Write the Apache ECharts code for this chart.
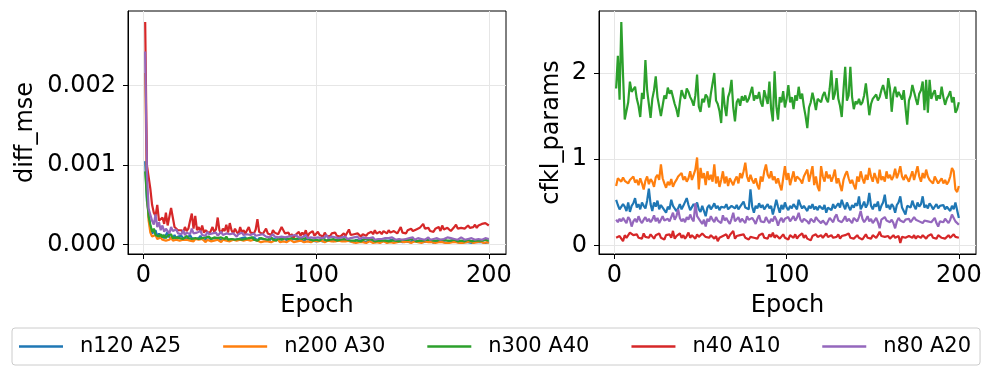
<!DOCTYPE html>
<html><head><meta charset="utf-8">
<script src="https://cdn.jsdelivr.net/npm/echarts@6/dist/echarts.min.js"></script>
<style>html,body{margin:0;padding:0;background:#fff}#c{width:997px;height:378px}</style>
</head><body><div id="c"></div>
<script>
// ---------- data ----------
const seriesNames = ['n120 A25', 'n200 A30', 'n300 A40', 'n40 A10', 'n80 A20'];
const epochs = [];
for (let e = 1; e <= 200; e++) epochs.push(e);
const xTickValues = [0, 100, 200];
const diffMseTickValues = [0, 0.001, 0.002];
const cfklTickValues = [0, 1, 2];

// diff_mse (left panel)
const diffMse_n120 = [105e-5,55e-5,40e-5,22e-5,14e-5,12e-5,18e-5,10e-5,14e-5,9e-5,
12e-5,8e-5,10e-5,16e-5,9e-5,11e-5,8e-5,12e-5,7e-5,10e-5,
9e-5,11e-5,8e-5,10e-5,7e-5,9e-5,12e-5,8e-5,10e-5,7e-5,
9e-5,8e-5,11e-5,7e-5,9e-5,6e-5,10e-5,8e-5,7e-5,9e-5,
8e-5,10e-5,7e-5,9e-5,6e-5,8e-5,7e-5,9e-5,6e-5,8e-5,
7e-5,9e-5,6e-5,8e-5,7e-5,5e-5,8e-5,7e-5,9e-5,6e-5,
7e-5,8e-5,6e-5,9e-5,7e-5,5e-5,8e-5,6e-5,7e-5,8e-5,
6e-5,7e-5,5e-5,8e-5,6e-5,7e-5,9e-5,6e-5,5e-5,7e-5,
6e-5,8e-5,5e-5,7e-5,6e-5,4e-5,7e-5,5e-5,6e-5,8e-5,
5e-5,6e-5,4e-5,7e-5,5e-5,6e-5,8e-5,5e-5,6e-5,4e-5,
6e-5,5e-5,7e-5,4e-5,6e-5,5e-5,3e-5,6e-5,5e-5,4e-5,
5e-5,6e-5,4e-5,5e-5,3e-5,6e-5,4e-5,5e-5,6e-5,4e-5,
5e-5,3e-5,6e-5,4e-5,5e-5,4e-5,6e-5,3e-5,5e-5,4e-5,
4e-5,6e-5,5e-5,3e-5,5e-5,4e-5,6e-5,4e-5,3e-5,5e-5,
4e-5,5e-5,3e-5,6e-5,4e-5,5e-5,3e-5,4e-5,5e-5,3e-5,
5e-5,4e-5,6e-5,3e-5,4e-5,5e-5,3e-5,4e-5,2e-5,5e-5,
4e-5,3e-5,5e-5,4e-5,3e-5,5e-5,4e-5,2e-5,4e-5,5e-5,
3e-5,4e-5,5e-5,3e-5,4e-5,2e-5,4e-5,5e-5,3e-5,4e-5,
5e-5,3e-5,4e-5,2e-5,4e-5,3e-5,5e-5,3e-5,4e-5,2e-5,
4e-5,3e-5,5e-5,3e-5,4e-5,3e-5,4e-5,2e-5,4e-5,3e-5];
const diffMse_n200 = [216e-5,70e-5,30e-5,15e-5,10e-5,8e-5,12e-5,7e-5,6e-5,9e-5,
6e-5,8e-5,5e-5,7e-5,6e-5,9e-5,5e-5,7e-5,6e-5,8e-5,
5e-5,7e-5,6e-5,4e-5,6e-5,8e-5,5e-5,6e-5,4e-5,7e-5,
5e-5,6e-5,4e-5,7e-5,5e-5,3e-5,6e-5,5e-5,4e-5,6e-5,
5e-5,4e-5,6e-5,5e-5,3e-5,6e-5,4e-5,5e-5,7e-5,4e-5,
5e-5,6e-5,4e-5,5e-5,3e-5,6e-5,4e-5,5e-5,4e-5,6e-5,
4e-5,5e-5,3e-5,6e-5,4e-5,5e-5,4e-5,3e-5,5e-5,4e-5,
6e-5,4e-5,5e-5,3e-5,4e-5,5e-5,4e-5,6e-5,3e-5,5e-5,
4e-5,5e-5,3e-5,4e-5,6e-5,4e-5,3e-5,5e-5,4e-5,3e-5,
5e-5,4e-5,3e-5,5e-5,4e-5,6e-5,3e-5,4e-5,5e-5,3e-5,
4e-5,3e-5,5e-5,4e-5,3e-5,4e-5,5e-5,3e-5,4e-5,2e-5,
4e-5,3e-5,5e-5,3e-5,4e-5,2e-5,4e-5,3e-5,5e-5,3e-5,
3e-5,4e-5,2e-5,4e-5,3e-5,5e-5,3e-5,4e-5,2e-5,3e-5,
4e-5,3e-5,2e-5,4e-5,3e-5,4e-5,2e-5,3e-5,4e-5,3e-5,
2e-5,4e-5,3e-5,3e-5,2e-5,4e-5,3e-5,2e-5,4e-5,3e-5,
3e-5,2e-5,4e-5,3e-5,2e-5,3e-5,4e-5,2e-5,3e-5,3e-5,
2e-5,3e-5,4e-5,2e-5,3e-5,2e-5,3e-5,4e-5,2e-5,3e-5,
3e-5,2e-5,3e-5,4e-5,2e-5,3e-5,2e-5,3e-5,3e-5,2e-5,
3e-5,4e-5,2e-5,3e-5,2e-5,3e-5,3e-5,2e-5,4e-5,3e-5,
2e-5,3e-5,3e-5,2e-5,4e-5,3e-5,2e-5,3e-5,3e-5,2e-5];
const diffMse_n300 = [92e-5,60e-5,35e-5,25e-5,16e-5,20e-5,12e-5,14e-5,10e-5,13e-5,
9e-5,12e-5,8e-5,11e-5,9e-5,13e-5,8e-5,10e-5,9e-5,11e-5,
8e-5,10e-5,7e-5,9e-5,11e-5,8e-5,10e-5,7e-5,9e-5,8e-5,
10e-5,7e-5,9e-5,8e-5,6e-5,9e-5,8e-5,10e-5,7e-5,8e-5,
9e-5,7e-5,8e-5,6e-5,9e-5,8e-5,7e-5,10e-5,6e-5,8e-5,
7e-5,9e-5,6e-5,8e-5,7e-5,9e-5,6e-5,8e-5,7e-5,5e-5,
8e-5,7e-5,9e-5,6e-5,8e-5,5e-5,7e-5,8e-5,6e-5,7e-5,
8e-5,6e-5,7e-5,9e-5,6e-5,7e-5,5e-5,8e-5,7e-5,6e-5,
7e-5,8e-5,6e-5,7e-5,5e-5,8e-5,6e-5,7e-5,6e-5,8e-5,
6e-5,7e-5,5e-5,8e-5,6e-5,7e-5,6e-5,5e-5,7e-5,6e-5,
7e-5,5e-5,6e-5,8e-5,6e-5,5e-5,7e-5,6e-5,5e-5,7e-5,
6e-5,5e-5,7e-5,6e-5,4e-5,7e-5,5e-5,6e-5,7e-5,5e-5,
6e-5,5e-5,7e-5,5e-5,6e-5,4e-5,6e-5,7e-5,5e-5,6e-5,
5e-5,7e-5,6e-5,4e-5,6e-5,5e-5,7e-5,5e-5,6e-5,5e-5,
6e-5,4e-5,6e-5,5e-5,7e-5,5e-5,6e-5,4e-5,5e-5,6e-5,
5e-5,6e-5,4e-5,6e-5,5e-5,7e-5,5e-5,4e-5,6e-5,5e-5,
6e-5,5e-5,4e-5,6e-5,5e-5,6e-5,4e-5,5e-5,6e-5,5e-5,
4e-5,6e-5,5e-5,6e-5,4e-5,5e-5,6e-5,5e-5,4e-5,6e-5,
5e-5,4e-5,6e-5,5e-5,6e-5,4e-5,5e-5,6e-5,5e-5,4e-5,
6e-5,5e-5,4e-5,5e-5,6e-5,5e-5,4e-5,6e-5,5e-5,5e-5];
const diffMse_n40 = [280e-5,100e-5,102e-5,70e-5,50e-5,40e-5,36e-5,50e-5,30e-5,28e-5,
34e-5,26e-5,40e-5,24e-5,22e-5,46e-5,34e-5,22e-5,20e-5,18e-5,
16e-5,18e-5,15e-5,22e-5,17e-5,20e-5,30e-5,39e-5,20e-5,36e-5,
18e-5,22e-5,16e-5,24e-5,15e-5,18e-5,20e-5,14e-5,17e-5,22e-5,
16e-5,19e-5,34e-5,18e-5,14e-5,20e-5,17e-5,25e-5,15e-5,27e-5,
18e-5,14e-5,20e-5,16e-5,13e-5,22e-5,15e-5,18e-5,14e-5,16e-5,
22e-5,15e-5,17e-5,14e-5,19e-5,32e-5,16e-5,18e-5,13e-5,15e-5,
20e-5,14e-5,16e-5,12e-5,18e-5,15e-5,17e-5,13e-5,15e-5,22e-5,
20e-5,14e-5,12e-5,15e-5,10e-5,13e-5,9e-5,12e-5,10e-5,16e-5,
11e-5,15e-5,12e-5,18e-5,10e-5,14e-5,12e-5,17e-5,11e-5,13e-5,
16e-5,12e-5,14e-5,10e-5,15e-5,11e-5,13e-5,10e-5,14e-5,12e-5,
15e-5,11e-5,13e-5,10e-5,12e-5,14e-5,11e-5,13e-5,19e-5,12e-5,
10e-5,13e-5,11e-5,14e-5,12e-5,10e-5,13e-5,15e-5,11e-5,14e-5,
12e-5,16e-5,13e-5,18e-5,14e-5,12e-5,16e-5,13e-5,17e-5,15e-5,
14e-5,18e-5,15e-5,13e-5,17e-5,19e-5,14e-5,16e-5,22e-5,15e-5,
17e-5,14e-5,18e-5,16e-5,20e-5,17e-5,15e-5,19e-5,18e-5,21e-5,
19e-5,26e-5,20e-5,18e-5,21e-5,17e-5,19e-5,16e-5,20e-5,18e-5,
22e-5,17e-5,24e-5,19e-5,18e-5,21e-5,20e-5,17e-5,19e-5,22e-5,
25e-5,20e-5,18e-5,21e-5,23e-5,20e-5,22e-5,24e-5,21e-5,23e-5,
22e-5,25e-5,21e-5,24e-5,23e-5,26e-5,24e-5,27e-5,25e-5,24e-5];
const diffMse_n80 = [243e-5,90e-5,45e-5,47e-5,30e-5,25e-5,38e-5,22e-5,28e-5,18e-5,
24e-5,16e-5,20e-5,18e-5,14e-5,22e-5,17e-5,15e-5,19e-5,14e-5,
16e-5,13e-5,18e-5,12e-5,15e-5,17e-5,13e-5,20e-5,14e-5,12e-5,
15e-5,13e-5,17e-5,12e-5,14e-5,11e-5,16e-5,13e-5,12e-5,14e-5,
12e-5,15e-5,11e-5,13e-5,16e-5,12e-5,10e-5,14e-5,12e-5,13e-5,
11e-5,14e-5,12e-5,10e-5,13e-5,11e-5,15e-5,12e-5,10e-5,13e-5,
11e-5,12e-5,10e-5,14e-5,11e-5,9e-5,12e-5,10e-5,13e-5,11e-5,
10e-5,12e-5,9e-5,11e-5,13e-5,10e-5,12e-5,9e-5,11e-5,10e-5,
12e-5,9e-5,11e-5,10e-5,8e-5,11e-5,9e-5,12e-5,10e-5,9e-5,
11e-5,9e-5,10e-5,12e-5,8e-5,10e-5,9e-5,11e-5,8e-5,10e-5,
9e-5,11e-5,8e-5,10e-5,9e-5,12e-5,8e-5,9e-5,10e-5,8e-5,
9e-5,10e-5,8e-5,7e-5,9e-5,8e-5,10e-5,7e-5,9e-5,8e-5,
7e-5,9e-5,8e-5,10e-5,7e-5,8e-5,9e-5,7e-5,8e-5,6e-5,
8e-5,7e-5,9e-5,6e-5,8e-5,7e-5,9e-5,7e-5,6e-5,8e-5,
7e-5,8e-5,6e-5,9e-5,7e-5,6e-5,8e-5,7e-5,9e-5,6e-5,
8e-5,7e-5,6e-5,8e-5,7e-5,9e-5,6e-5,7e-5,8e-5,6e-5,
7e-5,8e-5,6e-5,7e-5,9e-5,6e-5,8e-5,7e-5,6e-5,8e-5,
7e-5,6e-5,8e-5,7e-5,6e-5,9e-5,7e-5,8e-5,6e-5,7e-5,
8e-5,6e-5,7e-5,9e-5,7e-5,6e-5,8e-5,7e-5,6e-5,8e-5,
7e-5,6e-5,8e-5,7e-5,9e-5,6e-5,7e-5,8e-5,7e-5,7e-5];

// cfkl_params (right panel)
const cfkl_n120 = [0.53,0.47,0.42,0.44,0.48,0.45,0.40,0.50,0.39,0.46,
0.49,0.55,0.44,0.48,0.42,0.50,0.46,0.43,0.52,0.66,
0.48,0.40,0.50,0.45,0.52,0.42,0.47,0.44,0.41,0.38,
0.45,0.42,0.53,0.46,0.44,0.40,0.43,0.48,0.42,0.46,
0.44,0.55,0.47,0.41,0.43,0.48,0.45,0.50,0.42,0.39,
0.46,0.40,0.34,0.44,0.47,0.42,0.45,0.49,0.43,0.46,
0.41,0.45,0.47,0.44,0.48,0.42,0.40,0.46,0.44,0.43,
0.47,0.42,0.45,0.48,0.51,0.44,0.46,0.42,0.65,0.45,
0.38,0.46,0.43,0.49,0.44,0.47,0.42,0.45,0.48,0.43,
0.46,0.36,0.44,0.53,0.45,0.38,0.47,0.42,0.50,0.44,
0.41,0.46,0.43,0.48,0.45,0.42,0.53,0.47,0.43,0.46,
0.44,0.40,0.46,0.43,0.48,0.42,0.45,0.41,0.46,0.44,
0.42,0.47,0.38,0.44,0.46,0.41,0.48,0.43,0.45,0.49,
0.44,0.53,0.47,0.42,0.50,0.45,0.41,0.47,0.44,0.49,
0.46,0.57,0.42,0.46,0.51,0.44,0.48,0.61,0.46,0.42,
0.48,0.45,0.51,0.40,0.46,0.50,0.59,0.44,0.47,0.42,
0.48,0.45,0.38,0.47,0.50,0.57,0.44,0.40,0.36,0.46,
0.48,0.44,0.52,0.46,0.42,0.50,0.45,0.48,0.57,0.44,
0.47,0.43,0.49,0.46,0.42,0.45,0.48,0.43,0.46,0.44,
0.47,0.42,0.45,0.43,0.40,0.46,0.42,0.50,0.48,0.32];
const cfkl_n200 = [0.69,0.78,0.76,0.74,0.79,0.75,0.77,0.72,0.76,0.74,
0.80,0.73,0.76,0.70,0.78,0.72,0.65,0.75,0.80,0.71,
0.77,0.74,0.68,0.79,0.82,0.76,0.94,0.78,0.72,0.67,
0.74,0.70,0.77,0.68,0.73,0.76,0.80,0.78,0.84,0.76,
0.80,0.74,0.78,0.86,0.76,0.82,0.88,1.02,0.65,0.90,
0.78,0.84,0.70,0.86,0.76,0.82,0.74,0.94,0.72,0.80,
0.68,0.76,0.86,0.72,0.80,0.69,0.78,0.74,0.70,0.76,
0.80,0.72,0.84,0.78,0.86,0.96,0.80,0.74,0.82,0.76,
0.72,0.78,0.70,0.65,0.80,0.74,0.86,0.94,0.82,0.78,
0.86,0.76,0.80,0.72,0.78,0.70,0.64,0.78,0.92,0.76,
0.84,0.70,0.78,0.86,0.74,0.80,0.82,0.76,0.72,0.80,
0.78,0.88,0.74,0.76,0.92,0.70,0.80,0.68,0.63,0.92,
0.80,0.74,0.86,0.78,0.82,0.74,0.80,0.88,0.72,0.78,
0.70,0.63,0.76,0.82,0.86,0.78,0.72,0.76,0.70,0.65,
0.80,0.74,0.86,0.78,0.72,0.82,0.76,0.90,0.80,0.74,
0.84,0.78,0.72,0.88,0.76,0.80,0.74,0.86,0.78,0.82,
0.76,0.80,0.89,0.78,0.84,0.92,0.80,0.76,0.82,0.78,
0.74,0.80,0.86,0.76,0.84,0.92,0.80,0.74,0.84,0.78,
0.88,0.80,0.76,0.74,0.72,0.80,0.76,0.72,0.74,0.78,
0.72,0.76,0.71,0.74,0.80,0.90,0.86,0.65,0.62,0.69];
const cfkl_n300 = [1.82,2.20,1.69,2.59,1.98,1.46,1.47,1.66,1.90,1.78,
1.80,1.84,1.70,1.62,1.49,1.77,1.70,2.15,1.80,1.64,
1.48,1.70,1.80,1.96,1.72,1.61,1.50,1.62,1.74,1.70,
1.83,1.76,1.80,1.72,1.64,1.58,1.49,1.66,1.80,1.74,
1.70,1.82,1.78,1.72,1.68,1.62,1.74,1.98,1.61,1.55,
1.70,1.66,1.75,1.72,1.60,1.76,1.74,2.00,1.68,1.64,
1.56,1.42,1.83,1.62,1.50,1.72,1.78,1.92,1.60,1.44,
1.66,1.70,1.62,1.73,1.68,1.74,1.66,1.70,1.72,1.84,
1.68,1.74,1.70,1.78,1.66,1.61,1.80,1.72,1.64,1.90,
1.58,1.44,2.02,1.62,1.46,1.72,1.66,1.79,1.60,1.70,
1.86,1.66,1.72,1.58,1.74,1.68,1.84,1.70,1.76,1.61,
1.50,1.36,1.60,1.66,1.77,1.68,1.57,1.70,1.72,1.66,
1.74,1.78,1.70,1.66,1.82,2.03,1.69,1.76,1.94,1.70,
1.62,1.49,1.80,2.07,1.68,1.74,2.07,1.72,1.58,1.67,
1.64,1.70,1.63,1.66,1.74,1.88,1.70,1.51,1.64,1.70,
1.72,1.75,1.68,1.72,1.80,1.86,1.78,1.70,1.94,1.82,
1.55,1.76,1.84,1.72,1.78,1.74,1.69,1.80,1.60,1.40,
1.68,1.74,1.86,1.78,1.70,1.63,1.76,1.80,1.90,1.57,
1.92,1.54,1.92,1.70,1.76,1.80,1.68,1.74,1.70,1.84,
1.72,1.63,1.70,1.74,1.79,1.66,1.72,1.54,1.58,1.66];
const cfkl_n40 = [0.09,0.07,0.11,0.08,0.05,0.12,0.09,0.10,0.15,0.16,
0.12,0.10,0.13,0.09,0.11,0.08,0.14,0.10,0.12,0.09,
0.13,0.11,0.08,0.12,0.10,0.14,0.09,0.11,0.07,0.12,
0.10,0.13,0.09,0.17,0.08,0.11,0.10,0.14,0.09,0.12,
0.08,0.11,0.15,0.09,0.12,0.10,0.08,0.13,0.10,0.11,
0.14,0.12,0.10,0.11,0.09,0.12,0.10,0.08,0.11,0.05,
0.09,0.07,0.11,0.09,0.13,0.08,0.12,0.10,0.17,0.08,
0.11,0.09,0.12,0.10,0.13,0.09,0.11,0.07,0.10,0.12,
0.09,0.11,0.08,0.12,0.10,0.14,0.09,0.11,0.08,0.13,
0.10,0.15,0.09,0.12,0.11,0.08,0.10,0.13,0.09,0.11,
0.07,0.12,0.10,0.09,0.13,0.08,0.11,0.10,0.14,0.09,
0.12,0.08,0.10,0.06,0.11,0.09,0.13,0.10,0.08,0.12,
0.09,0.11,0.14,0.10,0.08,0.12,0.09,0.11,0.10,0.13,
0.08,0.11,0.09,0.12,0.10,0.14,0.09,0.11,0.08,0.10,
0.12,0.09,0.11,0.07,0.10,0.13,0.09,0.11,0.08,0.12,
0.10,0.09,0.12,0.16,0.11,0.13,0.10,0.09,0.11,0.08,
0.10,0.12,0.09,0.07,0.11,0.03,0.10,0.12,0.09,0.08,
0.11,0.10,0.09,0.12,0.08,0.11,0.10,0.09,0.12,0.10,
0.08,0.11,0.10,0.13,0.09,0.11,0.08,0.12,0.10,0.09,
0.11,0.08,0.10,0.12,0.09,0.07,0.13,0.10,0.11,0.09];
const cfkl_n80 = [0.30,0.27,0.31,0.28,0.32,0.29,0.26,0.33,0.30,0.22,
0.28,0.31,0.27,0.34,0.29,0.26,0.30,0.33,0.28,0.31,
0.27,0.30,0.35,0.28,0.32,0.26,0.30,0.34,0.29,0.27,
0.31,0.28,0.33,0.38,0.30,0.34,0.42,0.32,0.28,0.31,
0.27,0.33,0.30,0.36,0.31,0.28,0.49,0.34,0.32,0.28,
0.25,0.30,0.22,0.31,0.28,0.34,0.30,0.27,0.33,0.29,
0.31,0.26,0.35,0.29,0.32,0.28,0.25,0.31,0.38,0.28,
0.30,0.33,0.27,0.31,0.29,0.26,0.34,0.30,0.28,0.32,
0.29,0.25,0.31,0.35,0.28,0.30,0.27,0.33,0.29,0.26,
0.31,0.28,0.34,0.30,0.23,0.29,0.32,0.27,0.31,0.29,
0.33,0.28,0.30,0.34,0.29,0.32,0.38,0.30,0.27,0.31,
0.32,0.28,0.25,0.31,0.29,0.27,0.33,0.30,0.28,0.26,
0.29,0.31,0.24,0.28,0.32,0.30,0.27,0.33,0.36,0.29,
0.31,0.27,0.30,0.34,0.28,0.31,0.29,0.26,0.32,0.30,
0.28,0.33,0.40,0.31,0.27,0.30,0.34,0.28,0.31,0.26,
0.29,0.32,0.27,0.20,0.30,0.28,0.33,0.29,0.31,0.27,
0.30,0.26,0.20,0.28,0.32,0.29,0.31,0.27,0.30,0.28,
0.31,0.27,0.29,0.33,0.30,0.32,0.28,0.30,0.26,0.29,
0.31,0.28,0.30,0.27,0.29,0.32,0.26,0.22,0.28,0.30,
0.27,0.31,0.29,0.26,0.30,0.36,0.32,0.28,0.26,0.24];

// ---------- chart ----------
const diffMseSeries = [diffMse_n120, diffMse_n200, diffMse_n300, diffMse_n40, diffMse_n80];
const cfklSeries = [cfkl_n120, cfkl_n200, cfkl_n300, cfkl_n40, cfkl_n80];
const COLORS = ['#1f77b4', '#ff7f0e', '#2ca02c', '#d62728', '#9467bd'];
const FONT = 'DejaVu Sans';
const GRID_LINE = { show: true, lineStyle: { color: '#e6e6e6', width: 1 } };

function xAxisCfg(gi) {
  return {
    gridIndex: gi, type: 'value', min: -8.95, max: 209.95,
    name: 'Epoch', nameLocation: 'middle', nameGap: 40,
    nameTextStyle: { fontFamily: FONT, fontSize: 24, color: '#000' },
    axisLine: { show: true, onZero: false, lineStyle: { color: '#000', width: 1 } },
    axisTick: { show: true, length: 5, customValues: xTickValues, lineStyle: { color: '#000', width: 1 } },
    axisLabel: { customValues: xTickValues, margin: 10, fontFamily: FONT, fontSize: 24, color: '#000' },
    splitLine: GRID_LINE
  };
}
function yAxisCfg(gi, name, min, max, ticks, fmt, gap) {
  return {
    gridIndex: gi, type: 'value', min: min, max: max,
    name: name, nameLocation: 'middle', nameGap: gap,
    nameTextStyle: { fontFamily: FONT, fontSize: 24, color: '#000' },
    axisLine: { show: true, onZero: false, lineStyle: { color: '#000', width: 1 } },
    axisTick: { show: true, length: 5, customValues: ticks, lineStyle: { color: '#000', width: 1 } },
    axisLabel: { customValues: ticks, margin: 12, fontFamily: FONT, fontSize: 24, color: '#000', formatter: fmt },
    splitLine: GRID_LINE
  };
}

const series = [];
seriesNames.forEach((nm, i) => {
  series.push({
    name: nm, type: 'line', xAxisIndex: 0, yAxisIndex: 0, symbol: 'none',
    color: COLORS[i], lineStyle: { width: 2.2, color: COLORS[i] },
    data: epochs.map((e, k) => [e, diffMseSeries[i][k]]), z: 2 + i
  });
});
seriesNames.forEach((nm, i) => {
  series.push({
    name: nm, type: 'line', xAxisIndex: 1, yAxisIndex: 1, symbol: 'none',
    color: COLORS[i], lineStyle: { width: 2.2, color: COLORS[i] },
    data: epochs.map((e, k) => [e, cfklSeries[i][k]]), z: 2 + i
  });
});

const chart = echarts.init(document.getElementById('c'), null, { renderer: 'canvas' });
chart.setOption({
  animation: false,
  backgroundColor: '#fff',
  grid: [
    { left: 128, top: 11, width: 378, height: 243, show: true, borderColor: '#000', borderWidth: 1, backgroundColor: 'transparent' },
    { left: 599, top: 11, width: 377, height: 243, show: true, borderColor: '#000', borderWidth: 1, backgroundColor: 'transparent' }
  ],
  xAxis: [xAxisCfg(0), xAxisCfg(1)],
  yAxis: [
    yAxisCfg(0, 'diff_mse', -0.000119, 0.002939, diffMseTickValues, v => Number(v).toFixed(3), 90),
    yAxisCfg(1, 'cfkl_params', -0.098, 2.718, cfklTickValues, v => String(v), 35)
  ],
  legend: {
    data: seriesNames, left: 12, top: 328, orient: 'horizontal',
    icon: 'rect', itemWidth: 44, itemHeight: 2.5, itemGap: 42,
    padding: [8, 9, 8, 7], borderColor: '#cccccc', borderWidth: 1, borderRadius: 3,
    textStyle: { fontFamily: FONT, fontSize: 21, color: '#000', padding: [0, 0, 0, 12] },
    selectedMode: false
  },
  series: series
});
</script>
</body></html>
